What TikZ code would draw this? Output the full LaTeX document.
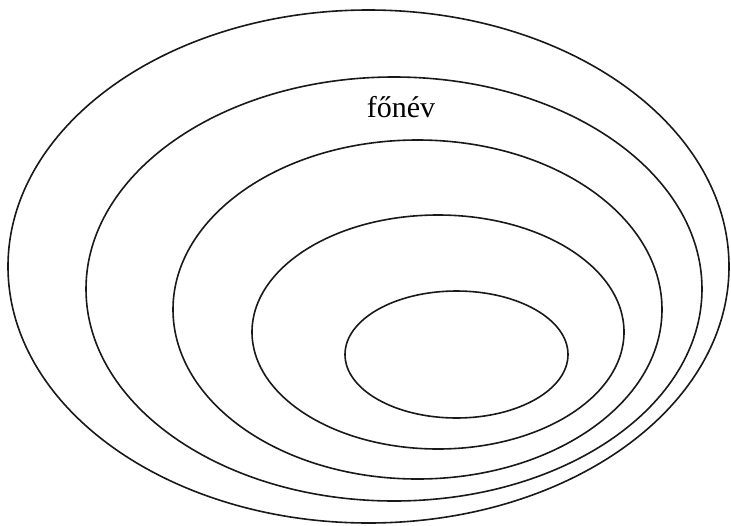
\documentclass[tikz,border=0pt]{standalone}
\usepackage{fontspec}
\setmainfont{Liberation Serif}
\usetikzlibrary{positioning}
\tikzset{ring/.style={line width=1.6pt,black!90},label/.style={font=\fontsize{30}{36}\selectfont,inner sep=0pt}}

\begin{document}
\begin{tikzpicture}[x=1pt,y=-1pt]
\useasboundingbox (0,0) rectangle (731,525);
% Egymásba ágyazott ellipszisek, kívülről befelé.
\foreach \cx/\cy/\rx/\ry in {368.5/266.5/360.5/256.5,394/289/308/212,417.5/309.5/244.5/169.5,438/332/186/117,456.5/354.5/111.5/63.5}{
\draw[ring] (\cx,\cy) ellipse[x radius=\rx,y radius=\ry];}
\node[label,anchor=base] (fonev) at (401,117){főnév};
\end{tikzpicture}
\end{document}
